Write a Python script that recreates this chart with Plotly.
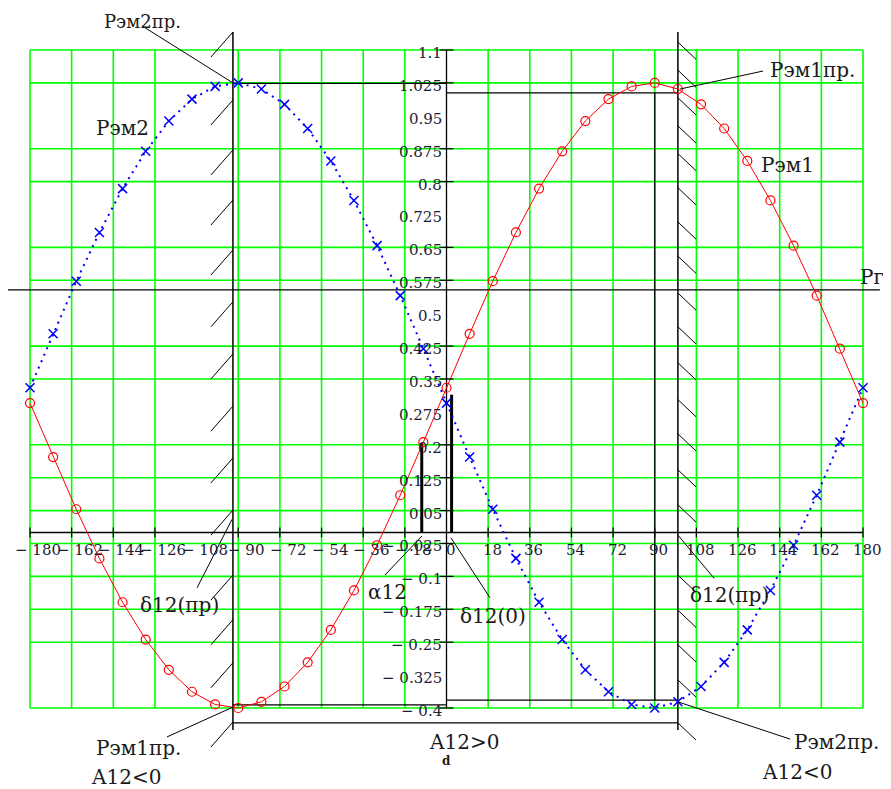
import plotly.graph_objects as go

# ---------------- data ----------------
delta = [-180, -170, -160, -150, -140, -130, -120, -110, -100, -90, -80, -70, -60, -50,
         -40, -30, -20, -10, 0, 10, 20, 30, 40, 50, 60, 70, 80, 90, 100, 110, 120, 130,
         140, 150, 160, 170, 180]
p_em1 = [0.295, 0.172, 0.053, -0.059, -0.159, -0.244, -0.313, -0.363, -0.392, -0.400,
         -0.386, -0.351, -0.296, -0.222, -0.132, -0.029, 0.085, 0.206, 0.330, 0.453,
         0.573, 0.684, 0.784, 0.869, 0.938, 0.988, 1.017, 1.025, 1.011, 0.976, 0.921,
         0.847, 0.757, 0.654, 0.540, 0.419, 0.295]
p_em2 = [0.330, 0.453, 0.573, 0.684, 0.784, 0.869, 0.938, 0.988, 1.017, 1.025, 1.011,
         0.976, 0.921, 0.847, 0.757, 0.654, 0.540, 0.419, 0.295, 0.172, 0.053, -0.059,
         -0.159, -0.244, -0.313, -0.363, -0.392, -0.400, -0.386, -0.351, -0.296, -0.222,
         -0.132, -0.029, 0.085, 0.206, 0.330]

x_ticks = [-180, -162, -144, -126, -108, -90, -72, -54, -36, -18, 0, 18, 36, 54, 72, 90,
           108, 126, 144, 162, 180]
x_tick_labels = ["− 180", "− 162", "− 144", "− 126", "− 108", "− 90", "− 72", "− 54",
                 "− 36", "− 18", "0", "18", "36", "54", "72", "90", "108", "126", "144",
                 "162", "180"]
y_ticks = [1.1, 1.025, 0.95, 0.875, 0.8, 0.725, 0.65, 0.575, 0.5, 0.425, 0.35, 0.275,
           0.2, 0.125, 0.05, -0.025, -0.1, -0.175, -0.25, -0.325, -0.4]
y_tick_labels = ["1.1", "1.025", "0.95", "0.875", "0.8", "0.725", "0.65", "0.575", "0.5",
                 "0.425", "0.35", "0.275", "0.2", "0.125", "0.05", "− 0.025", "− 0.1",
                 "− 0.175", "− 0.25", "− 0.325", "− 0.4"]
grid_x = [-180, -162, -144, -126, -90, -72, -54, -36, -18, 18, 36, 54, 72, 90, 108, 126,
          144, 162, 180]
grid_y = [1.1, 1.025, 0.875, 0.8, 0.65, 0.575, 0.425, 0.35, 0.2, 0.125, 0.05, -0.025,
          -0.1, -0.175, -0.25, -0.4]

P_g = 0.553                      # Pг level
delta_lim_left = -92.3           # δ12(пр) left
delta_lim_right = 100.0          # δ12(пр) right
delta_p1max = 90.0
p2_lim_top = 1.024
p1_lim_top = 1.002
p1_lim_bot = -0.393
p2_lim_bot = -0.382
a12_level = -0.434               # A12>0 bracket level
alpha12 = -10.7
alpha12_h = 0.204
delta12_0 = 2.2
delta12_0_h = 0.314
lim_top = 1.141
lim_bot = -0.45

left_hatch_tops = [1.141, 0.986, 0.872, 0.758, 0.644, 0.526, 0.407, 0.288, 0.170,
                   0.051, -0.097, -0.199, -0.297, -0.432]
right_hatch_tops = [1.118, 1.054, 0.991, 0.927, 0.864, 0.786, 0.708, 0.630, 0.546,
                    0.469, 0.387, 0.303, 0.225, 0.143, 0.063, -0.097, -0.177, -0.256,
                    -0.336, -0.434]

X_MIN, X_MAX = -180, 180
Y_MIN, Y_MAX = -0.4, 1.1
X_VIEW = [-189.51, 192.10]
Y_VIEW = [-0.5847, 1.1957]

fig = go.Figure()

shapes = []
GREEN = "#00ff00"
for gx in grid_x:
    shapes.append(dict(type="line", x0=gx, x1=gx, y0=Y_MIN, y1=Y_MAX, layer="below",
                       line=dict(color=GREEN, width=1.6)))
for gy in grid_y:
    shapes.append(dict(type="line", x0=X_MIN, x1=X_MAX, y0=gy, y1=gy, layer="below",
                       line=dict(color=GREEN, width=1.6)))


def bl(x0, y0, x1, y1, w=1.2, layer="below"):
    shapes.append(dict(type="line", x0=x0, y0=y0, x1=x1, y1=y1, layer=layer,
                       line=dict(color="black", width=w)))


# axes
bl(X_MIN, 0, X_MAX, 0, 1.3)
bl(0, Y_MIN, 0, Y_MAX, 1.3)
# Pг line
bl(X_VIEW[0], P_g, 187.3, P_g, 1.3)
# limit verticals
bl(delta_lim_left, lim_bot, delta_lim_left, lim_top, 1.5)
bl(delta_lim_right, lim_bot, delta_lim_right, lim_top, 1.5)
bl(delta_p1max, p2_lim_bot, delta_p1max, p1_lim_top, 1.3)
# limit horizontals
bl(delta_lim_left, p2_lim_top, 0, p2_lim_top, 1.3)
bl(0, p1_lim_top, delta_lim_right, p1_lim_top, 1.3)
bl(delta_lim_left, p1_lim_bot, 0, p1_lim_bot, 1.3)
bl(0, p2_lim_bot, delta_lim_right, p2_lim_bot, 1.3)
bl(delta_lim_left, a12_level, delta_lim_right, a12_level, 1.3)
# thick bars
bl(alpha12, 0, alpha12, alpha12_h, 3)
bl(delta12_0, 0, delta12_0, delta12_0_h, 3)
# hatches
for t in left_hatch_tops:
    bl(delta_lim_left, t, delta_lim_left - 9.5, t - 0.057, 1)
for t in right_hatch_tops:
    bl(delta_lim_right, t, delta_lim_right + 7.8, t - 0.039, 1)
# leader lines
bl(-131.6, 1.155, delta_lim_left, 1.025, 1, "above")
bl(136.8, 1.052, 100.9, 1.011, 1, "above")
bl(-107.8, -0.126, -92.7, 0.03, 1, "above")
bl(-26.6, -0.097, -10.6, -0.008, 1, "above")
bl(1.9, -0.012, 18.8, -0.149, 1, "above")
bl(100.0, -0.006, 115.6, -0.104, 1, "above")
bl(-120.8, -0.466, delta_lim_left, -0.398, 1, "above")
bl(148.5, -0.471, delta_lim_right, -0.386, 1, "above")

# curves
fig.add_trace(go.Scatter(x=delta, y=p_em1, mode="lines+markers", name="Pэм1",
                         line=dict(color="#ff0000", width=1),
                         marker=dict(symbol="circle-open", size=9, color="#ff0000",
                                     line=dict(width=1.2))))
fig.add_trace(go.Scatter(x=delta, y=p_em2, mode="lines+markers", name="Pэм2",
                         line=dict(color="#0000ff", width=2, dash="2px,5px"),
                         marker=dict(symbol="x-thin-open", size=9, color="#0000ff",
                                     line=dict(width=1.5, color="#0000ff"))))
# tick marks
fig.add_trace(go.Scatter(x=grid_x, y=[0] * len(grid_x), mode="markers",
                         marker=dict(symbol="line-ns-open", size=7, color="black",
                                     line=dict(color="black", width=1.2)),
                         hoverinfo="skip"))
fig.add_trace(go.Scatter(x=[0] * len(grid_y), y=grid_y, mode="markers",
                         marker=dict(symbol="line-ew-open", size=10, color="black",
                                     line=dict(color="black", width=1.2)),
                         hoverinfo="skip"))

annotations = []
TICKFONT = dict(family="DejaVu Serif", size=15, color="#1c1c34")
for v, lab in zip(x_ticks, x_tick_labels):
    annotations.append(dict(x=v, y=0, text=lab, showarrow=False, xanchor="center",
                            yanchor="top", yshift=-6, xshift=(8 if v < 0 else 4),
                            font=TICKFONT))
for v, lab in zip(y_ticks, y_tick_labels):
    annotations.append(dict(x=0, y=v, text=lab, showarrow=False, xanchor="right",
                            yanchor="middle", xshift=-3, yshift=-3, font=TICKFONT))

LABFONT = dict(family="DejaVu Serif", size=20, color="#1a1a1a")
labels = [
    ("Pэм2пр.", -131.6, 1.166, 18),
    ("Pэм1пр.", 158.0, 1.054, 20),
    ("Pэм2", -140.2, 0.922, 20),
    ("Pэм1", 147.2, 0.838, 20),
    ("Pг", 183.9, 0.583, 20),
    ("δ12(пр)", -115.6, -0.165, 20),
    ("α12", -25.3, -0.136, 20),
    ("δ12(0)", 20.1, -0.190, 20),
    ("δ12(пр)", 122.1, -0.142, 20),
    ("Pэм1пр.", -132.9, -0.491, 20),
    ("A12<0", -138.5, -0.557, 20),
    ("A12>0", 7.6, -0.477, 20),
    ("Pэм2пр.", 168.5, -0.477, 20),
    ("A12<0", 151.5, -0.546, 20),
]
for txt, lx, ly, fs in labels:
    annotations.append(dict(x=lx, y=ly, text=txt, showarrow=False, xanchor="center",
                            yanchor="middle",
                            font=dict(family="DejaVu Serif", size=fs, color="#1a1a1a")))
annotations.append(dict(x=0.2, y=-0.521, text="<b>d</b>", showarrow=False,
                        font=dict(family="DejaVu Serif", size=12, color="#1a1a1a")))

# the page body has an 8px margin: the figure is sized so that it fills the rest
fig.update_layout(
    width=883, height=781,
    margin=dict(l=0, r=0, t=0, b=0, pad=0),
    paper_bgcolor="white", plot_bgcolor="white",
    showlegend=False,
    xaxis=dict(range=X_VIEW, visible=False, fixedrange=True),
    yaxis=dict(range=Y_VIEW, visible=False, fixedrange=True),
    shapes=shapes,
    annotations=annotations,
)

fig.write_html("out.html")
